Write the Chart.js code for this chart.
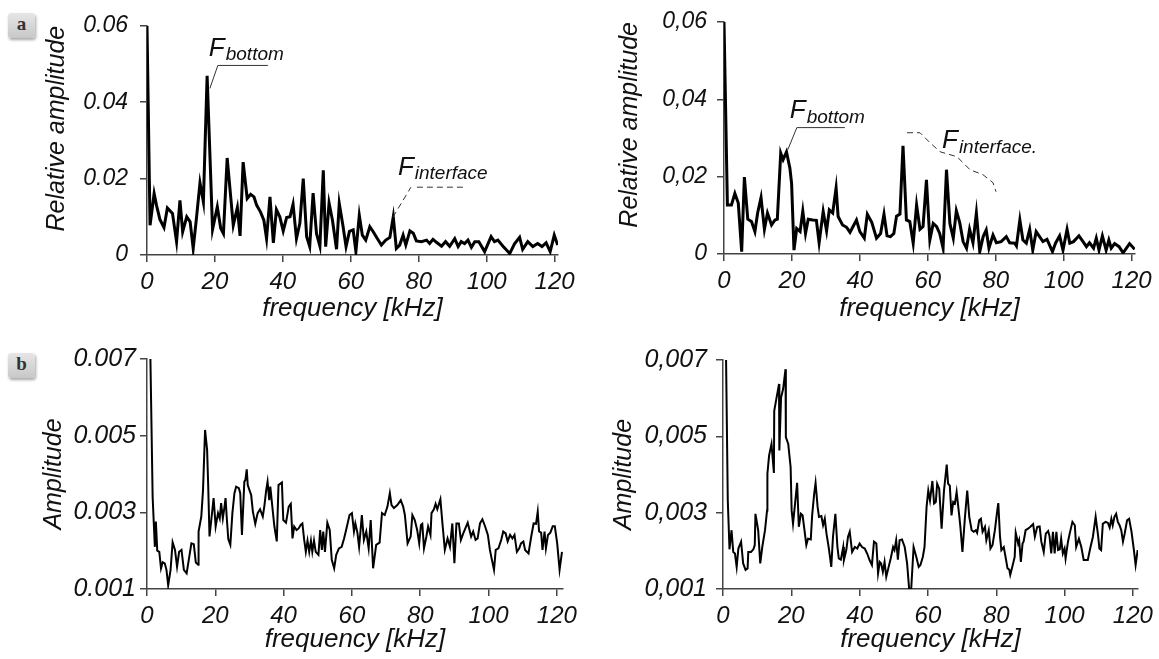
<!DOCTYPE html>
<html>
<head>
<meta charset="utf-8">
<title>Spectra a / b</title>
<script src="https://cdn.jsdelivr.net/npm/chart.js@4.4.1/dist/chart.umd.min.js"></script>
<style>
body { margin:0; background:#fff; width:1159px; height:659px; position:relative; overflow:hidden; }
canvas { position:absolute; }
.tag {
  position:absolute; left:8px; width:27px; height:25px; border-radius:3px;
  background:linear-gradient(#e6e6e6,#c8c8c8);
  box-shadow:1px 2px 3px rgba(0,0,0,.35);
  font:bold 19px "Liberation Serif", "DejaVu Serif", serif; color:#333;
  text-align:center; line-height:22px;
}
</style>
</head>
<body>
<div class="tag" style="top:13px">a</div>
<div class="tag" style="top:353px">b</div>
<canvas id="aLeft"></canvas>
<canvas id="aRight"></canvas>
<canvas id="bLeft"></canvas>
<canvas id="bRight"></canvas>
<script>
// ---- data ----
var xTicks = [0, 20, 40, 60, 80, 100, 120];
var yTicksRel = [0, 0.02, 0.04, 0.06];
var yLabelsRelDot = ['0', '0.02', '0.04', '0.06'];
var yLabelsRelComma = ['0', '0,02', '0,04', '0,06'];
var yTicksAmp = [0.001, 0.003, 0.005, 0.007];
var yLabelsAmpDot = ['0.001', '0.003', '0.005', '0.007'];
var yLabelsAmpComma = ['0,001', '0,003', '0,005', '0,007'];

// panel a, left
var aLeftFreq = [0, 0.9, 2.1, 2.8, 3.8, 5.0, 6.0, 7.5, 8.7, 9.7,
  10.5, 11.7, 12.7, 13.6, 14.6, 15.6, 16.6, 17.7, 19.3, 20.7,
  21.7, 22.5, 23.6, 25.4, 26.6, 27.4, 28.3, 29.5, 30.5, 31.5,
  32.3, 33.4, 34.4, 35.2, 36.2, 37.2, 38.1, 39.1, 40.1, 41.1,
  42.1, 43.0, 44.0, 45.0, 46.0, 47.0, 47.9, 48.9, 49.9, 50.9,
  51.9, 52.6, 53.6, 54.6, 55.8, 56.6, 57.7, 58.6, 59.6, 60.7,
  61.5, 62.5, 63.4, 64.4, 65.6, 66.6, 67.8, 69.0, 70.3, 71.5,
  72.5, 73.4, 74.4, 75.4, 76.2, 77.4, 78.4, 79.3, 80.8, 82.3,
  83.2, 84.2, 85.4, 86.7, 87.9, 89.1, 90.6, 91.6, 92.5, 93.5,
  94.5, 95.5, 96.5, 97.7, 99.4, 101.3, 102.3, 103.3, 104.8, 106.8,
  108.2, 109.7, 110.6, 112.1, 113.6, 115.0, 116.3, 117.5, 118.7, 119.9,
  120.9];
var aLeftAmp = [0.06, 0.0078, 0.0161, 0.0130, 0.0093, 0.0072, 0.0123, 0.0109, 0.0035, 0.0143,
  0.0061, 0.0100, 0.0087, 0.0017, 0.0100, 0.0189, 0.0139, 0.0469, 0.0067, 0.0126,
  0.0070, 0.0056, 0.0254, 0.0078, 0.0124, 0.0050, 0.0243, 0.0148, 0.0159, 0.0152,
  0.0130, 0.0113, 0.0091, 0.0043, 0.0152, 0.0032, 0.0119, 0.0100, 0.0063, 0.0098,
  0.0100, 0.0133, 0.0043, 0.0083, 0.0200, 0.0048, 0.0022, 0.0162, 0.0056, 0.0023,
  0.0222, 0.0022, 0.0136, 0.0091, 0.0015, 0.0135, 0.0076, 0.0022, 0.0062, 0.0066,
  0.0009, 0.0104, 0.0052, 0.0039, 0.0074, 0.0061, 0.0043, 0.0026, 0.0039, 0.0046,
  0.0100, 0.0017, 0.0026, 0.0052, 0.0026, 0.0063, 0.0057, 0.0037, 0.0035, 0.0039,
  0.0030, 0.0041, 0.0032, 0.0023, 0.0035, 0.0023, 0.0043, 0.0022, 0.0035, 0.0030,
  0.0039, 0.0020, 0.0035, 0.0035, 0.0009, 0.0048, 0.0035, 0.0039, 0.0023, 0.0004,
  0.0029, 0.0046, 0.0015, 0.0035, 0.0022, 0.0030, 0.0022, 0.0032, 0.0009, 0.0052,
  0.0026];

// panel a, right
var aRightFreq = [0, 1.0, 2.2, 3.2, 4.2, 5.2, 6.0, 7.0, 8.1, 9.1,
  9.9, 10.9, 11.9, 12.8, 14.0, 15.0, 15.7, 16.7, 17.4, 18.4,
  19.4, 19.9, 20.6, 21.4, 22.4, 23.2, 24.0, 24.8, 26.1, 27.2,
  28.0, 29.2, 30.2, 31.0, 32.0, 33.0, 33.6, 34.9, 36.1, 37.1,
  38.0, 39.0, 40.0, 41.3, 42.2, 43.5, 44.9, 46.1, 47.1, 48.0,
  49.0, 50.0, 50.8, 51.8, 52.7, 53.7, 54.7, 55.7, 56.7, 57.7,
  58.6, 59.6, 60.6, 61.6, 62.6, 63.5, 64.5, 65.5, 66.5, 67.5,
  68.4, 69.4, 70.4, 71.4, 72.3, 73.3, 74.3, 75.3, 76.3, 77.2,
  78.0, 79.2, 80.2, 81.6, 83.1, 84.1, 85.6, 86.1, 87.1, 88.0,
  89.0, 90.0, 90.9, 91.9, 92.9, 93.9, 95.1, 96.7, 97.6, 98.8,
  99.8, 101.0, 101.8, 102.9, 104.5, 105.7, 106.7, 107.6, 108.8, 109.6,
  110.4, 111.4, 112.5, 113.3, 114.0, 115.0, 116.3, 117.5, 119.4, 120.9];
var aRightAmp = [0.06, 0.0127, 0.0127, 0.0157, 0.0132, 0.0006, 0.0199, 0.0090, 0.0084, 0.0058,
  0.0106, 0.0146, 0.0064, 0.0106, 0.0075, 0.0088, 0.0090, 0.0261, 0.0244, 0.0264,
  0.0222, 0.0183, 0.0010, 0.0066, 0.0058, 0.0111, 0.0053, 0.0090, 0.0088, 0.0087,
  0.0029, 0.0110, 0.0060, 0.0114, 0.0106, 0.0171, 0.0097, 0.0075, 0.0069, 0.0056,
  0.0071, 0.0088, 0.0058, 0.0041, 0.0103, 0.0082, 0.0041, 0.0053, 0.0103, 0.0047,
  0.0045, 0.0053, 0.0098, 0.0103, 0.0280, 0.0088, 0.0084, 0.0028, 0.0127, 0.0064,
  0.0071, 0.0192, 0.0036, 0.0079, 0.0071, 0.0053, 0.0015, 0.0218, 0.0079, 0.0041,
  0.0112, 0.0081, 0.0032, 0.0015, 0.0064, 0.0029, 0.0106, 0.0006, 0.0045, 0.0062,
  0.0015, 0.0049, 0.0029, 0.0032, 0.0045, 0.0029, 0.0028, 0.0021, 0.0088, 0.0036,
  0.0028, 0.0064, 0.0010, 0.0058, 0.0045, 0.0032, 0.0038, 0.0006, 0.0028, 0.0047,
  0.0010, 0.0064, 0.0028, 0.0032, 0.0047, 0.0032, 0.0019, 0.0029, 0.0015, 0.0041,
  0.0010, 0.0047, 0.0010, 0.0036, 0.0015, 0.0027, 0.0019, 0.0003, 0.0027, 0.0012];

// panel b, left
var bLeftFreq = [1.0, 1.65, 2.0, 2.3, 2.6, 3.0, 3.6, 4.1, 4.6, 5.2,
  5.7, 6.2, 6.9, 7.5, 8.2, 8.8, 9.4, 10.1, 10.8, 11.6,
  12.3, 13.0, 13.7, 14.3, 15.0, 15.1, 15.9, 16.4, 17.0, 17.6,
  17.9, 18.3, 18.8, 19.5, 20.1, 20.8, 21.3, 21.7, 22.2, 22.7,
  23.0, 23.4, 23.8, 24.4, 25.0, 25.6, 26.1, 26.9, 27.3, 27.8,
  28.3, 28.5, 28.8, 29.2, 29.5, 30.0, 30.5, 31.0, 31.7, 32.4,
  33.1, 33.9, 34.4, 34.9, 35.3, 35.8, 36.1, 36.8, 37.3, 38.0,
  38.5, 39.5, 39.9, 40.7, 41.5, 42.1, 42.6, 43.1, 43.8, 44.4,
  45.0, 45.5, 46.0, 46.5, 47.0, 47.5, 48.0, 48.4, 48.9, 49.4,
  50.2, 50.7, 51.2, 51.6, 52.1, 52.8, 53.5, 54.1, 54.8, 55.4,
  56.2, 57.0, 57.7, 58.3, 59.3, 60.0, 60.6, 61.0, 61.6, 62.1,
  62.5, 62.9, 63.5, 64.2, 64.9, 65.5, 66.2, 67.1, 68.1, 68.8,
  69.6, 70.4, 71.1, 71.6, 72.3, 73.3, 74.3, 75.0, 75.5, 76.3,
  77.2, 77.7, 78.4, 79.1, 79.7, 80.2, 80.6, 81.1, 81.8, 82.3,
  83.0, 83.3, 84.0, 84.5, 85.0, 85.9, 86.5, 87.2, 88.0, 88.7,
  89.4, 90.0, 90.6, 91.3, 91.9, 92.6, 93.9, 94.9, 95.5, 96.2,
  96.8, 97.5, 98.2, 99.0, 99.8, 100.4, 100.9, 101.6, 102.1, 102.9,
  103.7, 104.3, 105.0, 105.6, 106.3, 107.0, 107.6, 108.3, 109.0, 109.5,
  110.2, 110.7, 111.7, 112.5, 113.2, 113.9, 114.4, 114.8, 115.4, 115.8,
  116.4, 116.8, 117.4, 118.1, 118.8, 119.4, 120.1, 120.8, 121.5];
var bLeftAmp = [0.0070, 0.0034, 0.0027, 0.0021, 0.00276, 0.0020, 0.00197, 0.00154, 0.0017, 0.00167,
  0.0015, 0.0011, 0.0015, 0.00222, 0.00202, 0.00158, 0.00197, 0.00202, 0.0015, 0.00141,
  0.0018, 0.00219, 0.00217, 0.00169, 0.00163, 0.0025, 0.00289, 0.00358, 0.00515, 0.00463,
  0.00376, 0.00237, 0.00278, 0.00337, 0.00263, 0.00298, 0.00284, 0.00324, 0.00284, 0.00315,
  0.00337, 0.0028, 0.0023, 0.00215, 0.00298, 0.0035, 0.00367, 0.00363, 0.0035, 0.00241,
  0.00341, 0.0038, 0.00384, 0.00412, 0.00371, 0.00358, 0.00345, 0.00302, 0.0027, 0.00298,
  0.00308, 0.00289, 0.00319, 0.00358, 0.0038, 0.00332, 0.00367, 0.00306, 0.00263, 0.00224,
  0.00371, 0.00378, 0.0028, 0.00273, 0.00315, 0.00322, 0.00232, 0.00263, 0.00254, 0.00258,
  0.00267, 0.00271, 0.0023, 0.00197, 0.00226, 0.00197, 0.00226, 0.00197, 0.00226, 0.00197,
  0.00189, 0.00254, 0.00202, 0.0025, 0.00197, 0.00273, 0.00254, 0.00176, 0.00154, 0.00189,
  0.00206, 0.0021, 0.00232, 0.00254, 0.00293, 0.00298, 0.0025, 0.00271, 0.00247, 0.0021,
  0.0025, 0.00293, 0.00228, 0.0025, 0.00206, 0.0028, 0.00154, 0.00215, 0.00221, 0.00298,
  0.00293, 0.00315, 0.0035, 0.00319, 0.00311, 0.00319, 0.00332, 0.00315, 0.00293, 0.00219,
  0.00237, 0.00293, 0.0028, 0.00254, 0.00219, 0.00267, 0.0027, 0.00206, 0.00237, 0.00263,
  0.00241, 0.00298, 0.00308, 0.00322, 0.00308, 0.00334, 0.00271, 0.00202, 0.00232, 0.0021,
  0.00271, 0.00167, 0.00271, 0.00271, 0.00228, 0.00245, 0.00273, 0.00237, 0.0025, 0.00228,
  0.00232, 0.00271, 0.00282, 0.00263, 0.00241, 0.00202, 0.0018, 0.0015, 0.00202, 0.00206,
  0.00228, 0.0025, 0.00245, 0.00224, 0.00241, 0.00232, 0.00241, 0.00197, 0.00206, 0.00219,
  0.00224, 0.00202, 0.00193, 0.00237, 0.00271, 0.0027, 0.00302, 0.0025, 0.00247, 0.00202,
  0.0025, 0.00206, 0.00241, 0.00247, 0.00264, 0.00264, 0.00219, 0.0015, 0.00197];

// panel b, right
var bRightFreq = [0.9, 1.4, 1.9, 2.5, 3.0, 3.5, 4.0, 4.5, 5.3, 5.9,
  6.6, 7.2, 7.4, 8.2, 8.9, 9.3, 9.5, 10.3, 10.9, 11.5,
  12.3, 12.9, 13.0, 13.5, 14.2, 14.9, 15.0, 15.7, 16.4, 16.5,
  17.0, 17.6, 18.3, 18.4, 19.1, 19.8, 20.1, 20.5, 21.0, 21.7,
  22.2, 22.8, 23.3, 23.8, 24.4, 24.9, 25.7, 26.1, 26.7, 27.1,
  27.7, 28.1, 28.8, 29.3, 29.8, 30.3, 31.0, 31.7, 32.2, 32.9,
  33.5, 33.9, 34.5, 35.2, 35.4, 36.1, 36.6, 37.1, 37.8, 38.6,
  39.3, 40.0, 40.7, 41.5, 42.3, 42.9, 43.6, 44.2, 44.9, 45.4,
  45.9, 46.3, 46.8, 47.3, 47.8, 48.5, 49.1, 49.8, 50.2, 50.7,
  51.2, 51.7, 52.4, 53.2, 53.9, 54.5, 55.1, 55.8, 56.6, 57.3,
  57.8, 58.5, 59.0, 59.6, 60.1, 60.6, 61.3, 61.8, 62.3, 62.7,
  63.3, 64.0, 64.7, 65.5, 65.9, 66.4, 66.9, 67.4, 67.9, 68.4,
  69.2, 69.5, 70.1, 70.8, 71.5, 72.1, 72.8, 73.4, 74.0, 74.4,
  75.0, 75.5, 76.0, 76.7, 77.1, 77.8, 78.3, 78.9, 79.6, 80.3,
  80.6, 81.1, 81.5, 82.2, 82.8, 83.3, 83.8, 84.1, 84.7, 85.4,
  85.7, 86.4, 86.7, 87.2, 87.7, 88.0, 88.6, 89.3, 90.0, 90.8,
  91.3, 92.0, 92.7, 93.2, 93.9, 94.5, 95.2, 95.6, 96.1, 96.6,
  97.1, 97.6, 98.1, 98.6, 99.0, 99.5, 100.0, 100.3, 101.0, 101.5,
  102.3, 103.0, 103.4, 104.2, 104.9, 105.6, 106.8, 107.5, 108.3, 109.1,
  109.8, 110.2, 110.7, 111.2, 112.0, 112.7, 113.2, 113.7, 114.1, 114.6,
  115.1, 115.6, 116.1, 116.6, 117.1, 117.6, 118.3, 118.9, 119.6, 120.3,
  120.8, 121.4];
var bRightAmp = [0.0070, 0.00332, 0.00204, 0.00254, 0.00197, 0.00193, 0.00158, 0.00206, 0.00224, 0.00167,
  0.0015, 0.00154, 0.00197, 0.00197, 0.00204, 0.00215, 0.00297, 0.00254, 0.00167, 0.0021,
  0.00254, 0.00306, 0.00402, 0.0045, 0.0048, 0.00404, 0.00567, 0.00602, 0.00637, 0.00463,
  0.00602, 0.00624, 0.00676, 0.00498, 0.0048, 0.00419, 0.00306, 0.00271, 0.00315, 0.00378,
  0.00263, 0.00297, 0.00293, 0.00258, 0.00215, 0.00232, 0.0023, 0.00293, 0.0035, 0.00378,
  0.00315, 0.00289, 0.00291, 0.00267, 0.00284, 0.00245, 0.00206, 0.00158, 0.00237, 0.00297,
  0.0021, 0.0018, 0.00177, 0.0021, 0.00176, 0.00202, 0.00237, 0.0025, 0.00197, 0.0021,
  0.00206, 0.00219, 0.0021, 0.00206, 0.00191, 0.00176, 0.00163, 0.00224, 0.00219, 0.00141,
  0.00171, 0.00167, 0.00145, 0.00171, 0.00132, 0.00158, 0.0018, 0.0021, 0.00202, 0.00228,
  0.00177, 0.00228, 0.0023, 0.0021, 0.00167, 0.0010, 0.0010, 0.0021, 0.00184, 0.00158,
  0.00163, 0.00184, 0.0021, 0.00315, 0.00358, 0.00332, 0.00383, 0.00324, 0.00328, 0.00376,
  0.00363, 0.00258, 0.00358, 0.00426, 0.00376, 0.00371, 0.00293, 0.00328, 0.00324, 0.00354,
  0.00289, 0.00263, 0.00197, 0.00284, 0.00358, 0.00289, 0.00254, 0.0025, 0.00254, 0.00247,
  0.0028, 0.00284, 0.0025, 0.00263, 0.00228, 0.00254, 0.00206, 0.00215, 0.00254, 0.00306,
  0.00325, 0.00237, 0.00202, 0.0021, 0.0018, 0.00154, 0.00151, 0.00137, 0.00158, 0.00184,
  0.00247, 0.00219, 0.00228, 0.00171, 0.00219, 0.00224, 0.00254, 0.00258, 0.00263, 0.0027,
  0.00237, 0.00263, 0.00264, 0.00224, 0.00197, 0.00245, 0.00252, 0.00238, 0.00193, 0.0025,
  0.00193, 0.0025, 0.00202, 0.00204, 0.00232, 0.00193, 0.00206, 0.0018, 0.00224, 0.00245,
  0.00276, 0.00267, 0.0021, 0.00232, 0.0021, 0.00176, 0.00176, 0.00206, 0.00237, 0.00289,
  0.00241, 0.00206, 0.00202, 0.00271, 0.00276, 0.00273, 0.00261, 0.00284, 0.00267, 0.00289,
  0.00297, 0.00276, 0.00267, 0.00254, 0.00224, 0.00245, 0.0028, 0.00284, 0.0025, 0.00202,
  0.00163, 0.00202];

// ---- drawing ----
var FONT = '"Liberation Sans", Arial, sans-serif';
var AXIS = '#444';
var INK = '#111';

// y titles (top aligned where needed), leader lines and F labels
var notesPlugin = {
  id: 'notes',
  afterDatasetsDraw: function (chart, args, opts) {
    var ctx = chart.ctx, sx = chart.scales.x, sy = chart.scales.y, a = chart.chartArea;

    ctx.save();
    ctx.fillStyle = INK;
    ctx.font = 'italic 25px ' + FONT;
    ctx.textBaseline = 'middle';
    ctx.translate(a.left - opts.titleGap, opts.titleAlign === 'end' ? a.top : (a.top + a.bottom) / 2);
    ctx.rotate(-Math.PI / 2);
    ctx.textAlign = opts.titleAlign === 'end' ? 'right' : 'center';
    ctx.fillText(opts.title, 0, 0);
    ctx.restore();

    (opts.items || []).forEach(function (n) {
      var ax = sx.getPixelForValue(n.at[0]), ay = sy.getPixelForValue(n.at[1]);
      ctx.save();
      ctx.strokeStyle = '#333';
      ctx.lineWidth = 1;
      ctx.setLineDash(n.dash ? [6, 4] : []);
      n.paths.forEach(function (path) {
        ctx.beginPath();
        path.forEach(function (p, i) {
          if (i) ctx.lineTo(ax + p[0], ay + p[1]); else ctx.moveTo(ax + p[0], ay + p[1]);
        });
        ctx.stroke();
      });
      ctx.setLineDash([]);
      ctx.fillStyle = INK;
      ctx.textBaseline = 'alphabetic';
      ctx.font = 'italic 26px ' + FONT;
      ctx.fillText('F', ax + n.text[0], ay + n.text[1]);
      var w = ctx.measureText('F').width;
      ctx.font = 'italic 19px ' + FONT;
      ctx.fillText(n.sub, ax + n.text[0] + w + 1, ay + n.text[1] + n.subDrop);
      ctx.restore();
    });
  }
};

function panel(id, freq, amp, p) {
  var W = p.titleGap + 20;            // y axis box width
  var cv = document.getElementById(id);
  var left = p.L - W, top = p.T - 25;
  var cw = W + (p.R - p.L) + 30, ch = 25 + (p.B - p.T) + p.bottomBox + p.padBottom;
  cv.width = cw; cv.height = ch;
  cv.style.left = left + 'px';
  cv.style.top = top + 'px';
  cv.style.width = cw + 'px'; cv.style.height = ch + 'px';

  var pts = freq.map(function (f, i) { return { x: f, y: amp[i] }; });

  var chart = new Chart(cv.getContext('2d'), {
    type: 'line',
    data: { datasets: [{
      data: pts, borderColor: '#000', borderWidth: p.lineWidth,
      pointRadius: 0, tension: 0, fill: false, borderJoinStyle: 'miter'
    }] },
    options: {
      responsive: false, animation: false,
      layout: { padding: { left: 0, top: 25, right: 30, bottom: p.padBottom } },
      plugins: {
        legend: { display: false }, tooltip: { enabled: false },
        notes: { items: p.notes, title: p.yTitle, titleAlign: p.yTitleAlign, titleGap: p.titleGap }
      },
      scales: {
        x: {
          type: 'linear', min: 0, max: p.xMax,
          afterBuildTicks: function (s) { s.ticks = xTicks.map(function (v) { return { value: v }; }); },
          afterFit: function (s) { s.height = p.bottomBox; },
          grid: { drawOnChartArea: false, tickLength: 7, color: AXIS, lineWidth: 1.5 },
          border: { color: AXIS, width: 1.5 },
          ticks: { color: INK, padding: 6, maxRotation: 0, autoSkip: false,
                   font: { family: FONT, size: 24, style: 'italic' },
                   callback: function (v) { return String(v); } },
          title: { display: true, text: 'frequency [kHz]', color: INK,
                   font: { family: FONT, size: 26, style: 'italic' },
                   padding: { top: 0, bottom: p.xTitlePad } }
        },
        y: {
          min: p.yTicks[0], max: p.yTicks[p.yTicks.length - 1],
          afterBuildTicks: function (s) { s.ticks = p.yTicks.map(function (v) { return { value: v }; }); },
          afterFit: function (s) { s.width = W; },
          grid: { drawOnChartArea: false, tickLength: 7, color: AXIS, lineWidth: 1.5 },
          border: { color: AXIS, width: 1.5 },
          ticks: { color: INK, padding: p.yTickPad,
                   font: { family: FONT, size: p.yTickSize, style: 'italic' },
                   callback: function (v, i) { return p.yLabels[i]; } }
        }
      }
    },
    plugins: [notesPlugin]
  });

  // nudge the layout padding so the plot area lands where the reference has it
  for (var k = 0; k < 4; k++) {
    var a = chart.chartArea, pad = chart.options.layout.padding;
    var dt = (p.T - top) - a.top, db = (p.B - top) - a.bottom;
    var dl = (p.L - left) - a.left, dr = (p.R - left) - a.right;
    if (Math.abs(dt) + Math.abs(db) + Math.abs(dl) + Math.abs(dr) < 0.5) break;
    pad.top += dt; pad.bottom -= db; pad.left += dl; pad.right -= dr;
    chart.update();
  }
  return chart;
}

panel('aLeft', aLeftFreq, aLeftAmp, {
  L: 147, R: 558, T: 25, B: 255, xMax: 121, bottomBox: 75, padBottom: 6, xTitlePad: 6,
  titleGap: 90, yTickPad: 12, yTickSize: 23, lineWidth: 3,
  yTicks: yTicksRel, yLabels: yLabelsRelDot, yTitle: 'Relative amplitude', yTitleAlign: 'end',
  notes: [
    { at: [18.5, 0.0436], paths: [[[0, 0], [8, -23], [58, -23]]], dash: false,
      text: [-1, -32], sub: 'bottom', subDrop: 4 },
    { at: [72.4, 0.0099], paths: [[[0, 0], [18, -30]], [[24, -30], [74, -30]]], dash: true,
      text: [5, -42], sub: 'interface', subDrop: 4 }
  ]
});

panel('aRight', aRightFreq, aRightAmp, {
  L: 724, R: 1135, T: 22, B: 254, xMax: 121, bottomBox: 76, padBottom: 6, xTitlePad: 6,
  titleGap: 94, yTickPad: 10, yTickSize: 23, lineWidth: 3,
  yTicks: yTicksRel, yLabels: yLabelsRelComma, yTitle: 'Relative amplitude', yTitleAlign: 'end',
  notes: [
    { at: [18.8, 0.027], paths: [[[0, 0], [9, -22], [57, -22]]], dash: false,
      text: [2, -32], sub: 'bottom', subDrop: 5 },
    { at: [52.7, 0.028], paths: [[[4, -13], [17, -13], [27, -3], [37, 6], [54, 11], [67, 24], [80, 29], [90, 37], [93, 46]]],
      dash: true, text: [39, 2], sub: 'interface.', subDrop: 5 }
  ]
});

panel('bLeft', bLeftFreq, bLeftAmp, {
  L: 147, R: 563, T: 359, B: 589, xMax: 121.8, bottomBox: 68, padBottom: 2, xTitlePad: 2,
  titleGap: 93, yTickPad: 4, yTickSize: 25, lineWidth: 2,
  yTicks: yTicksAmp, yLabels: yLabelsAmpDot, yTitle: 'Amplitude', yTitleAlign: 'center',
  notes: []
});

panel('bRight', bRightFreq, bRightAmp, {
  L: 723, R: 1138, T: 360, B: 589, xMax: 121.5, bottomBox: 68, padBottom: 2, xTitlePad: 2,
  titleGap: 99, yTickPad: 9, yTickSize: 25, lineWidth: 2,
  yTicks: yTicksAmp, yLabels: yLabelsAmpComma, yTitle: 'Amplitude', yTitleAlign: 'center',
  notes: []
});
</script>
</body>
</html>
